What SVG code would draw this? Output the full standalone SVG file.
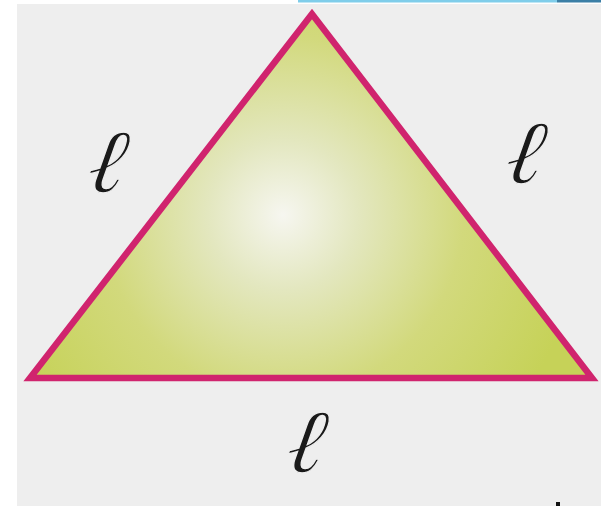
<svg xmlns="http://www.w3.org/2000/svg" width="601" height="506" viewBox="0 0 601 506">
<style>
.lbl{font-family:"DejaVu Serif","Liberation Serif",serif;font-style:italic;font-size:90px;fill:#1a1a1a;stroke:#eeeeee;stroke-width:1.3px;text-anchor:middle}
</style>
<defs>
<radialGradient id="g" gradientUnits="userSpaceOnUse" cx="283" cy="215" r="300">
<stop offset="0" stop-color="#f6f6f0"/>
<stop offset="0.25" stop-color="#e3e7bf"/>
<stop offset="0.6" stop-color="#d2d97c"/>
<stop offset="1" stop-color="#c6d258"/>
</radialGradient>
</defs>
<rect x="0" y="0" width="601" height="506" fill="#ffffff"/>
<rect x="17" y="4" width="584" height="502" fill="#eeeeee"/>
<rect x="298" y="0" width="259" height="2.5" fill="#7fcdea"/>
<rect x="557" y="0" width="44" height="2.5" fill="#3b7fa6"/>
<g id="triangle">
<polygon points="312,14 30,378 592,378" fill="url(#g)" stroke="#d0246e" stroke-width="6.5" stroke-linejoin="miter"/>
</g>
<g id="labels">
<text class="lbl" transform="translate(103,192) skewX(-10)">ℓ</text>
<text class="lbl" transform="translate(521,183) skewX(-10)">ℓ</text>
<text class="lbl" transform="translate(302,472) skewX(-10)">ℓ</text>
</g>
<rect x="556" y="502" width="4" height="4" fill="#111111"/>
</svg>
